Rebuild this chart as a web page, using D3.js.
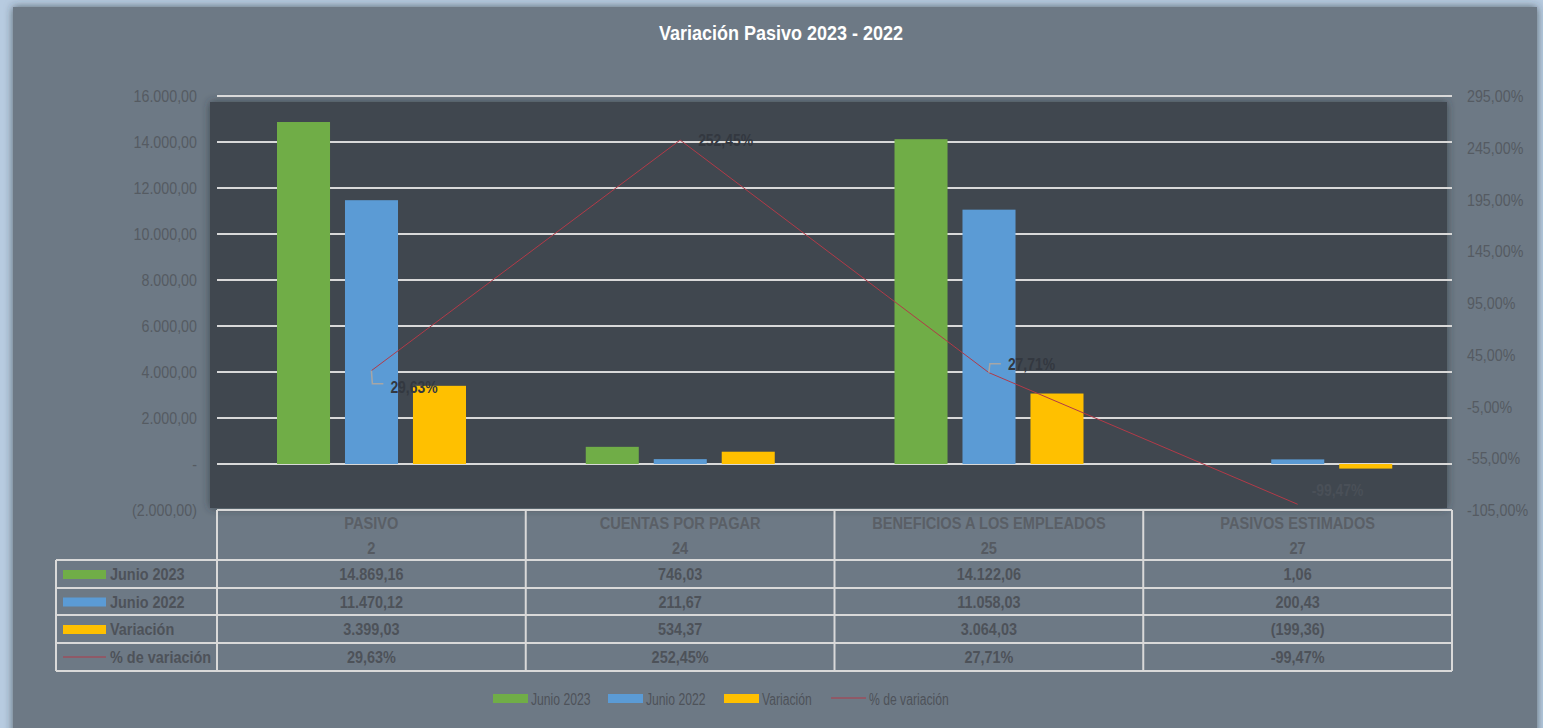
<!DOCTYPE html>
<html>
<head>
<meta charset="utf-8">
<script src="https://cdn.jsdelivr.net/npm/d3@7"></script>
<style>
  html, body { margin: 0; padding: 0; background: #b7cbe0; }
  svg text { font-family: "Liberation Sans Narrow", "Arial Narrow", "Liberation Sans", Arial, sans-serif; }
</style>
</head>
<body>
<svg id="chart" width="1543" height="728"></svg>
<script>
// --- data ---
const categories = ['PASIVO', 'CUENTAS POR PAGAR', 'BENEFICIOS A LOS EMPLEADOS', 'PASIVOS ESTIMADOS'];
const codes = ['2', '24', '25', '27'];
const junio2023 = [14869.16, 746.03, 14122.06, 1.06];
const junio2022 = [11470.12, 211.67, 11058.03, 200.43];
const variacion = [3399.03, 534.37, 3064.03, -199.36];
const pctVariacion = [29.63, 252.45, 27.71, -99.47];
const leftTicks = [-2000, 0, 2000, 4000, 6000, 8000, 10000, 12000, 14000, 16000];
const rightTicks = [-105, -55, -5, 45, 95, 145, 195, 245, 295];

const seriesNames = ['Junio 2023', 'Junio 2022', 'Variación'];
const seriesColors = ['#70ad47', '#5b9bd5', '#ffc000'];
const lineColor = '#b23a48';

const svg = d3.select('#chart');
const W = 1543, H = 728;

// the original uses a narrow font; squeeze regular glyphs horizontally
function squeeze(sel, k) {
  sel.each(function() {
    const t = d3.select(this);
    const tx = +t.attr('x'), ty = +t.attr('y');
    t.attr('x', 0).attr('y', 0).attr('transform', `translate(${tx},${ty}) scale(${k},1)`);
  });
}

const defs = svg.append('defs');
const sh = defs.append('filter').attr('id', 'shadow')
  .attr('x', '-5%').attr('y', '-5%').attr('width', '110%').attr('height', '110%');
sh.append('feDropShadow').attr('dx', 0).attr('dy', 0).attr('stdDeviation', 4)
  .attr('flood-color', '#2a3038').attr('flood-opacity', 0.7);

// outer panel
svg.append('rect').attr('width', W).attr('height', H).attr('fill', '#b7cbe0');
svg.append('rect').attr('x', 13).attr('y', 7).attr('width', 1524).attr('height', 740)
  .attr('fill', '#6d7985').attr('filter', 'url(#shadow)');

svg.append('text')
  .attr('x', 781).attr('y', 40)
  .attr('text-anchor', 'middle')
  .attr('fill', '#ffffff')
  .attr('font-weight', 'bold')
  .attr('font-size', 20)
  .text('Variación Pasivo 2023 - 2022')
  .call(squeeze, 0.9);

// scales
const x = d3.scaleBand().domain(categories).range([217, 1452]);
const xSub = d3.scaleBand().domain(seriesNames).range([60, 249]).paddingInner(0.22);
const yL = d3.scaleLinear().domain([-2000, 16000]).range([510, 96]);
const yR = d3.scaleLinear().domain([-105, 295]).range([510, 96]);

// dark plot background
svg.append('rect')
  .attr('x', x.range()[0] - 7).attr('y', yL(16000) + 6)
  .attr('width', x.range()[1] - x.range()[0] + 2)
  .attr('height', yL(-2000) - yL(16000) - 8)
  .attr('fill', '#3f4750')
  .attr('filter', 'url(#shadow)');

// gridlines
svg.append('g').selectAll('line')
  .data(leftTicks)
  .join('line')
  .attr('x1', x.range()[0]).attr('x2', x.range()[1])
  .attr('y1', d => yL(d)).attr('y2', d => yL(d))
  .attr('stroke', '#d9d9d9').attr('stroke-width', 2);

const fmtNum = v => {
  const s = d3.format(',.2f')(Math.abs(v)).replace(/,/g, '#').replace('.', ',').replace(/#/g, '.');
  return v < 0 ? '(' + s + ')' : s;
};
const fmtPct = v => d3.format('.2f')(v).replace('.', ',').replace('\u2212', '-') + '%';

// left axis
svg.append('g').selectAll('text')
  .data(leftTicks)
  .join('text')
  .attr('x', 197).attr('y', d => yL(d) + 6)
  .attr('text-anchor', 'end')
  .attr('font-size', 17)
  .attr('fill', '#555b62')
  .text(d => d === 0 ? '-' : fmtNum(d))
  .call(squeeze, 0.84);

// right axis
svg.append('g').selectAll('text')
  .data(rightTicks)
  .join('text')
  .attr('x', 1467).attr('y', d => yR(d) + 6)
  .attr('font-size', 17)
  .attr('fill', '#555b62')
  .text(d => fmtPct(d))
  .call(squeeze, 0.84);

// bars
const seriesData = [junio2023, junio2022, variacion];
seriesData.forEach((vals, si) => {
  svg.append('g').selectAll('rect')
    .data(vals)
    .join('rect')
    .attr('x', (d, i) => x(categories[i]) + xSub(seriesNames[si]))
    .attr('y', d => yL(Math.max(0, d)))
    .attr('width', xSub.bandwidth())
    .attr('height', d => Math.abs(yL(d) - yL(0)))
    .attr('fill', seriesColors[si]);
});

// % line
const cx = i => x(categories[i]) + x.bandwidth() / 2;
svg.append('path')
  .datum(pctVariacion)
  .attr('fill', 'none')
  .attr('stroke', lineColor)
  .attr('stroke-width', 1)
  .attr('d', d3.line().x((d, i) => cx(i)).y(d => yR(d)));

// line labels with leader lines
const labelOffsets = [
  { dx: 19, dy: 16, leader: [[0, 0], [1, 13], [12, 13]] },
  { dx: 18, dy: 0, leader: null },
  { dx: 19, dy: -9, leader: [[0, 0], [1, -9], [12, -9]] },
  { dx: 14, dy: -14, leader: null }
];
pctVariacion.forEach((v, i) => {
  const px = cx(i), py = yR(v), o = labelOffsets[i];
  if (o.leader) {
    svg.append('path')
      .attr('d', d3.line()(o.leader.map(p => [px + p[0], py + p[1]])))
      .attr('fill', 'none').attr('stroke', '#a6a6a6').attr('stroke-width', 1.5);
  }
  svg.append('text')
    .attr('x', px + o.dx).attr('y', py + o.dy + 6)
    .attr('font-size', 17)
    .attr('font-weight', 'bold')
    .attr('fill', i === 3 ? '#4a5058' : '#333840')
    .text(fmtPct(v))
    .call(squeeze, 0.82);
});

// data table
const tLeft = 56;
const rowY = [510, 560, 588, 615, 643, 671];
const tg = svg.append('g');
const tableStroke = '#d9d9d9';

// header labels
categories.forEach((c, i) => {
  const mx = x(c) + x.bandwidth() / 2;
  tg.append('text').attr('x', mx).attr('y', 529).attr('text-anchor', 'middle')
    .attr('font-size', 17).attr('font-weight', 'bold').attr('fill', '#5a5f66').text(c)
    .call(squeeze, 0.86);
  tg.append('text').attr('x', mx).attr('y', 554).attr('text-anchor', 'middle')
    .attr('font-size', 17).attr('font-weight', 'bold').attr('fill', '#555a61').text(codes[i])
    .call(squeeze, 0.86);
});

const rowData = [junio2023, junio2022, variacion, pctVariacion];
const rowNames = ['Junio 2023', 'Junio 2022', 'Variación', '% de variación'];
rowData.forEach((vals, r) => {
  const ty = (rowY[r + 1] + rowY[r + 2]) / 2;
  vals.forEach((v, i) => {
    tg.append('text')
      .attr('x', x(categories[i]) + x.bandwidth() / 2).attr('y', ty + 6)
      .attr('text-anchor', 'middle')
      .attr('font-size', 17).attr('font-weight', 'bold').attr('fill', '#4d5259')
      .text(r === 3 ? fmtPct(v) : fmtNum(v))
      .call(squeeze, 0.85);
  });
  if (r < 3) {
    tg.append('rect').attr('x', 63).attr('y', ty - 4).attr('width', 43).attr('height', 9)
      .attr('fill', seriesColors[r]);
  } else {
    tg.append('line').attr('x1', 63).attr('x2', 106).attr('y1', ty).attr('y2', ty)
      .attr('stroke', lineColor).attr('stroke-width', 1);
  }
  tg.append('text').attr('x', 110).attr('y', ty + 6)
    .attr('font-size', 17).attr('font-weight', 'bold').attr('fill', '#4d5259')
    .text(rowNames[r])
    .call(squeeze, 0.85);
});

// table grid
const [xa, xb] = x.range();
tg.append('line').attr('x1', xa).attr('x2', xb).attr('y1', rowY[0]).attr('y2', rowY[0])
  .attr('stroke', tableStroke).attr('stroke-width', 2);
rowY.slice(1).forEach(yy => {
  tg.append('line').attr('x1', tLeft).attr('x2', xb).attr('y1', yy).attr('y2', yy)
    .attr('stroke', tableStroke).attr('stroke-width', 2);
});
const colX = categories.map(c => x(c)).concat([xb]);
colX.forEach(xx => {
  tg.append('line').attr('x1', xx).attr('x2', xx).attr('y1', rowY[0]).attr('y2', rowY[5])
    .attr('stroke', tableStroke).attr('stroke-width', 2);
});
tg.append('line').attr('x1', tLeft).attr('x2', tLeft).attr('y1', rowY[1]).attr('y2', rowY[5])
  .attr('stroke', tableStroke).attr('stroke-width', 2);

// bottom legend
const legendItems = [
  { name: 'Junio 2023', x: 493, type: 'rect', color: seriesColors[0] },
  { name: 'Junio 2022', x: 608, type: 'rect', color: seriesColors[1] },
  { name: 'Variación', x: 724, type: 'rect', color: seriesColors[2] },
  { name: '% de variación', x: 831, type: 'line', color: lineColor }
];
const lg = svg.append('g');
legendItems.forEach(it => {
  if (it.type === 'rect') {
    lg.append('rect').attr('x', it.x).attr('y', 694).attr('width', 35).attr('height', 9).attr('fill', it.color);
  } else {
    lg.append('line').attr('x1', it.x).attr('x2', it.x + 35).attr('y1', 698).attr('y2', 698)
      .attr('stroke', it.color).attr('stroke-width', 1);
  }
  lg.append('text').attr('x', it.x + 38).attr('y', 705)
    .attr('font-size', 16).attr('fill', '#4d5259').text(it.name)
    .call(squeeze, 0.76);
});
</script>
</body>
</html>
